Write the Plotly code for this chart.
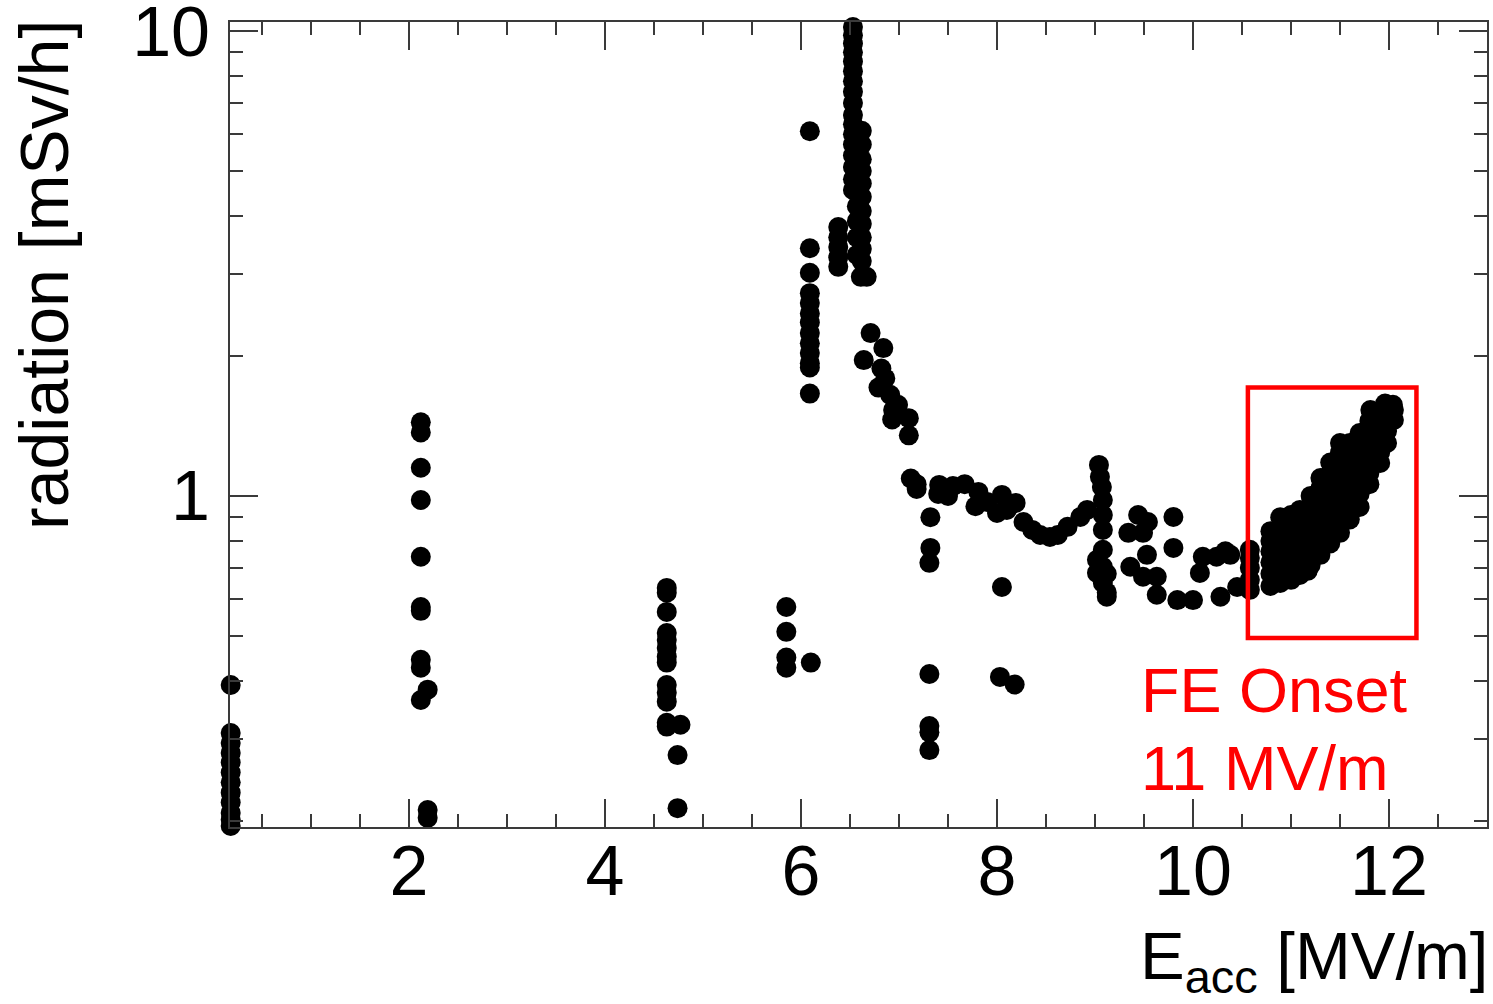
import math
import plotly.graph_objects as go

# ---- data ----
g1_x = [0.18]*12
g1_y = [0.392, 0.309, 0.294, 0.280, 0.267, 0.254, 0.242, 0.230, 0.219, 0.208, 0.201, 0.195]

g2_x = [2.12, 2.12, 2.12, 2.12, 2.12, 2.12, 2.12, 2.12, 2.12, 2.19, 2.12, 2.19, 2.19]
g2_y = [1.44, 1.37, 1.15, 0.98, 0.74, 0.577, 0.566, 0.444, 0.427, 0.383, 0.364, 0.211, 0.203]

g3_x = [4.63, 4.63, 4.63, 4.63, 4.63, 4.63, 4.63, 4.63, 4.63, 4.63, 4.63, 4.63, 4.63, 4.77, 4.74, 4.74]
g3_y = [0.634, 0.619, 0.563, 0.507, 0.49, 0.471, 0.451, 0.438, 0.392, 0.377, 0.361, 0.325, 0.319, 0.322, 0.277, 0.213]

g4_x = [5.85, 5.85, 5.85, 5.85, 6.10]
g4_y = [0.577, 0.51, 0.449, 0.427, 0.438]

g5_x = [6.09]*13
g5_y = [6.09, 3.41, 3.02, 2.73, 2.60, 2.47, 2.36, 2.24, 2.13, 2.03, 1.93, 1.89, 1.66]

g6_x = [6.38, 6.38, 6.38, 6.38, 6.38]
g6_y = [3.79, 3.60, 3.43, 3.26, 3.11]

peak_a_x = [6.53]*17
peak_a_y = [10.2, 9.8, 9.4, 9.0, 8.6, 8.2, 7.8, 7.4, 7.0, 6.6, 6.3, 6.0, 5.7, 5.4, 5.1, 4.8, 4.55]
peak_b_x = [6.62]*11
peak_b_y = [6.1, 5.7, 5.3, 5.0, 4.7, 4.4, 4.1, 3.85, 3.6, 3.4, 3.2]
peak_c_x = [6.57, 6.57, 6.57, 6.57, 6.57, 6.61, 6.67]
peak_c_y = [4.55, 4.2, 3.9, 3.6, 3.3, 2.96, 2.96]

desc_x = [6.71, 6.84, 6.64, 6.82, 6.86, 6.79, 6.91, 6.99, 6.94, 6.93, 7.10, 7.10]
desc_y = [2.24, 2.08, 1.96, 1.88, 1.79, 1.71, 1.65, 1.57, 1.53, 1.46, 1.47, 1.35]

s73_x = [7.12, 7.18, 7.18, 7.32, 7.32, 7.31, 7.31, 7.31, 7.31, 7.31]
s73_y = [1.09, 1.06, 1.035, 0.90, 0.773, 0.718, 0.414, 0.320, 0.31, 0.284]

plat_x = [7.41, 7.40, 7.50, 7.55, 7.67, 7.81, 7.78, 7.90, 8.05, 8.19, 8.00, 8.10, 8.27, 8.36,
          8.44, 8.54, 8.62, 8.72, 8.85, 8.92, 9.04, 9.05, 9.07, 9.08, 9.08, 9.08, 9.08,
          9.08, 9.08, 9.12, 9.02, 9.02, 9.12, 9.12, 8.05, 8.03, 8.18]
plat_y = [1.056, 1.01, 1.00, 1.05, 1.06, 1.02, 0.95, 0.97, 1.005, 0.966, 0.919, 0.933, 0.879, 0.845,
          0.824, 0.816, 0.824, 0.858, 0.901, 0.933, 1.166, 1.099, 1.045, 0.98, 0.91, 0.845, 0.766,
          0.704, 0.65, 0.607, 0.683, 0.729, 0.62, 0.68, 0.637, 0.408, 0.393]

mid_x = [9.36, 9.34, 9.44, 9.54, 9.49, 9.53, 9.49, 9.63, 9.63, 9.80, 9.80, 9.84, 10.00, 10.10,
         10.07, 10.24, 10.38, 10.28, 10.45, 10.33]
mid_y = [0.704, 0.833, 0.91, 0.879, 0.833, 0.747, 0.67, 0.67, 0.613, 0.901, 0.773, 0.597, 0.597, 0.74,
         0.683, 0.74, 0.747, 0.607, 0.637, 0.76]

fe_x = [10.58, 10.58, 10.58, 10.58, 10.58,
        10.79, 10.79, 10.79, 10.79, 10.79, 10.79,
        10.89, 10.89, 10.89, 10.89, 10.89, 10.89, 10.89,
        11.00, 11.00, 11.00, 11.00, 11.00, 11.00,
        11.09, 11.09, 11.09, 11.09, 11.09, 11.09, 11.17,
        11.20, 11.20, 11.20, 11.20, 11.20, 11.20,
        11.30, 11.30, 11.30, 11.30, 11.30, 11.30, 11.30,
        11.40, 11.40, 11.40, 11.40, 11.40, 11.40, 11.40,
        11.50, 11.50, 11.50, 11.50, 11.50, 11.50, 11.50, 11.50,
        11.60, 11.60, 11.60, 11.60, 11.60, 11.60, 11.60,
        11.70, 11.70, 11.70, 11.70, 11.70, 11.70, 11.70,
        11.80, 11.80, 11.80, 11.80, 11.80, 11.80, 11.80, 11.81,
        11.91, 11.91, 11.91, 11.91, 11.91, 11.91,
        11.98, 11.98, 11.98, 11.98, 11.96,
        12.05, 12.05, 12.04]
fe_y = [0.628, 0.66, 0.70, 0.735, 0.766,
        0.64, 0.68, 0.72, 0.76, 0.80, 0.84,
        0.65, 0.69, 0.73, 0.77, 0.81, 0.85, 0.90,
        0.66, 0.71, 0.76, 0.81, 0.86, 0.91,
        0.676, 0.72, 0.77, 0.82, 0.87, 0.933, 0.69,
        0.71, 0.76, 0.82, 0.88, 0.94, 1.00,
        0.747, 0.80, 0.86, 0.92, 0.98, 1.04, 1.093,
        0.79, 0.85, 0.91, 0.98, 1.05, 1.12, 1.18,
        0.833, 0.89, 0.95, 1.02, 1.09, 1.17, 1.24, 1.30,
        0.89, 0.95, 1.02, 1.09, 1.16, 1.23, 1.30,
        0.947, 1.01, 1.08, 1.15, 1.22, 1.29, 1.366,
        1.06, 1.12, 1.19, 1.26, 1.33, 1.40, 1.45, 1.53,
        1.177, 1.24, 1.31, 1.38, 1.45, 1.49,
        1.30, 1.38, 1.46, 1.52, 1.58,
        1.457, 1.53, 1.57]

e_acc = (g1_x + g2_x + g3_x + g4_x + g5_x + g6_x + peak_a_x + peak_b_x + peak_c_x
         + desc_x + s73_x + plat_x + mid_x + fe_x)
radiation = (g1_y + g2_y + g3_y + g4_y + g5_y + g6_y + peak_a_y + peak_b_y + peak_c_y
             + desc_y + s73_y + plat_y + mid_y + fe_y)

x_range = [0.173, 13.0]
y_range_vals = [0.194, 10.46]
y_major = [1, 10]
y_major_text = ["1", "10"]
y_minor = [0.2, 0.3, 0.4, 0.5, 0.6, 0.7, 0.8, 0.9, 2, 3, 4, 5, 6, 7, 8, 9]

box_x = [10.56, 12.28]
box_y = [0.495, 1.71]

FONT = "Liberation Sans, Arial, Helvetica, sans-serif"
AX = "#3a3a3a"
TICKFONT = 70

fig = go.Figure()
fig.add_trace(go.Scatter(
    x=e_acc, y=radiation, mode="markers",
    marker=dict(color="black", size=20, line=dict(width=0)),
    cliponaxis=False, showlegend=False, hoverinfo="x+y"))

fig.update_layout(
    width=1493, height=1004,
    margin=dict(l=230, r=6, t=22, b=177, autoexpand=False),
    paper_bgcolor="white", plot_bgcolor="white",
    font=dict(family=FONT, color="black", size=64),
    showlegend=False,
)
fig.update_xaxes(
    range=x_range, showgrid=False, zeroline=False, automargin=False,
    showline=True, linewidth=2, linecolor=AX, mirror="allticks",
    ticks="inside", ticklen=28, tickwidth=2, tickcolor=AX,
    tick0=0, dtick=2, tickfont=dict(size=TICKFONT, family=FONT, color="black"),
    ticklabelstandoff=-18, ticklabeloverflow="allow",
    minor=dict(ticks="inside", ticklen=13, tickwidth=2, tickcolor=AX, tick0=0, dtick=0.5, showgrid=False),
)
fig.update_yaxes(
    type="log", range=[math.log10(y_range_vals[0]), math.log10(y_range_vals[1])],
    showgrid=False, zeroline=False, automargin=False,
    showline=True, linewidth=2, linecolor=AX, mirror="allticks",
    ticks="inside", ticklen=28, tickwidth=2, tickcolor=AX,
    tickmode="array", tickvals=y_major, ticktext=y_major_text,
    tickfont=dict(size=TICKFONT, family=FONT, color="black"),
    ticklabeloverflow="allow", ticklabelstandoff=4,
    minor=dict(ticks="inside", ticklen=13, tickwidth=2, tickcolor=AX,
               tickmode="array", tickvals=y_minor, showgrid=False),
)

fig.add_shape(type="rect", xref="x", yref="y",
              x0=box_x[0], x1=box_x[1], y0=box_y[0], y1=box_y[1],
              line=dict(color="#ff0000", width=4.5), fillcolor="rgba(0,0,0,0)")

fig.add_annotation(text="radiation [mSv/h]", textangle=-90, xref="paper", yref="paper",
                   x=-0.148, y=1.0, xanchor="center", yanchor="top", yshift=4, showarrow=False,
                   font=dict(size=68, family=FONT, color="black"))
fig.add_annotation(text="E<sub>acc</sub> [MV/m]", xref="paper", yref="paper",
                   x=1.0, y=-177/805, xanchor="right", yanchor="bottom", yshift=0, xshift=2,
                   showarrow=False, borderpad=0,
                   font=dict(size=67, family=FONT, color="black"))
fig.add_annotation(text="FE Onset", xref="x", yref="paper", align="left",
                   x=9.45, y=0.1702, xanchor="left", yanchor="middle", showarrow=False,
                   font=dict(size=63, family=FONT, color="#ff0000"))
fig.add_annotation(text="11 MV/m", xref="x", yref="paper", align="left",
                   x=9.45, y=0.0733, xanchor="left", yanchor="middle", showarrow=False,
                   font=dict(size=63, family=FONT, color="#ff0000"))

fig.write_html("out.html")
